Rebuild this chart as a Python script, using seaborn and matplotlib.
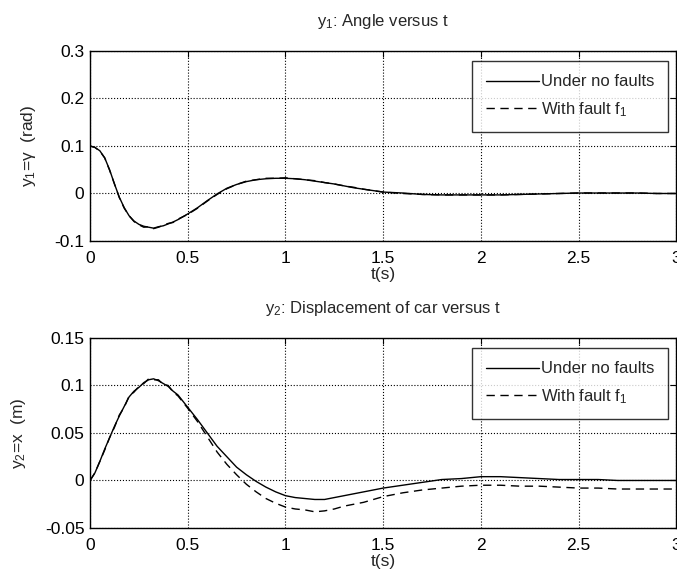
import numpy as np
import seaborn as sns
import matplotlib.pyplot as plt

# time samples (s)
t = [0, 0.025, 0.05, 0.075, 0.1, 0.125, 0.15, 0.175, 0.2, 0.225, 0.25, 0.275,
     0.3, 0.325, 0.35, 0.375, 0.4, 0.425, 0.45, 0.5, 0.55, 0.6, 0.65, 0.7, 0.75,
     0.8, 0.85, 0.9, 0.95, 1.0, 1.05, 1.1, 1.15, 1.2, 1.25, 1.3, 1.35, 1.4,
     1.45, 1.5, 1.6, 1.7, 1.8, 1.9, 2.0, 2.1, 2.2, 2.3, 2.4, 2.5, 2.6, 2.7,
     2.8, 2.9, 3.0]

# y1 : angle (rad)
y1_nofault = [0.100, 0.097, 0.090, 0.075, 0.050, 0.020, -0.008, -0.030, -0.047,
              -0.058, -0.065, -0.069, -0.071, -0.073, -0.070, -0.068, -0.064,
              -0.060, -0.055, -0.043, -0.030, -0.015, -0.001, 0.011, 0.019,
              0.025, 0.029, 0.031, 0.032, 0.032, 0.031, 0.029, 0.026, 0.023,
              0.020, 0.016, 0.012, 0.009, 0.006, 0.003, 0.001, -0.002, -0.003,
              -0.003, -0.003, -0.003, -0.002, -0.001, 0.000, 0.001, 0.001,
              0.001, 0.001, 0.000, 0.000]
y1_fault = [0.100, 0.097, 0.089, 0.075, 0.049, 0.020, -0.009, -0.031, -0.047,
            -0.059, -0.066, -0.071, -0.070, -0.074, -0.071, -0.067, -0.063,
            -0.061, -0.054, -0.044, -0.031, -0.016, -0.002, 0.010, 0.019,
            0.026, 0.029, 0.032, 0.032, 0.033, 0.031, 0.029, 0.027, 0.023,
            0.020, 0.016, 0.013, 0.009, 0.006, 0.003, 0.000, -0.002, -0.003,
            -0.003, -0.003, -0.003, -0.002, -0.001, 0.000, 0.001, 0.001,
            0.001, 0.001, 0.000, 0.000]

# y2 : displacement of car (m)
y2_nofault = [0.000, 0.008, 0.020, 0.033, 0.045, 0.057, 0.068, 0.078, 0.088,
              0.094, 0.098, 0.103, 0.106, 0.107, 0.105, 0.102, 0.099, 0.094,
              0.090, 0.077, 0.064, 0.050, 0.036, 0.025, 0.014, 0.006, -0.001,
              -0.007, -0.012, -0.016, -0.018, -0.019, -0.020, -0.020, -0.018,
              -0.016, -0.014, -0.012, -0.010, -0.008, -0.005, -0.002, 0.001,
              0.002, 0.004, 0.004, 0.003, 0.002, 0.001, 0.001, 0.001, 0.000,
              0.000, 0.000, 0.000]
y2_fault = [0.000, 0.008, 0.020, 0.032, 0.045, 0.056, 0.069, 0.077, 0.089,
            0.093, 0.099, 0.102, 0.107, 0.106, 0.106, 0.101, 0.100, 0.093,
            0.089, 0.076, 0.062, 0.046, 0.030, 0.017, 0.006, -0.004, -0.012,
            -0.019, -0.024, -0.028, -0.030, -0.031, -0.033, -0.032, -0.030,
            -0.027, -0.025, -0.023, -0.020, -0.017, -0.013, -0.010, -0.008,
            -0.006, -0.005, -0.005, -0.006, -0.006, -0.007, -0.008, -0.008,
            -0.009, -0.009, -0.009, -0.009]

xticks = [0, 0.5, 1, 1.5, 2, 2.5, 3]
xticklabels = ["0", "0.5", "1", "1.5", "2", "2.5", "3"]
y1ticks = [-0.1, 0, 0.1, 0.2, 0.3]
y1ticklabels = ["-0.1", "0", "0.1", "0.2", "0.3"]
y2ticks = [-0.05, 0, 0.05, 0.1, 0.15]
y2ticklabels = ["-0.05", "0", "0.05", "0.1", "0.15"]

sns.set_style("white")
plt.rcParams['font.family'] = ['Liberation Sans', 'DejaVu Sans']
plt.rcParams['mathtext.fontset'] = 'custom'
plt.rcParams['mathtext.rm'] = 'Liberation Sans'
plt.rcParams['mathtext.default'] = 'rm'

fig = plt.figure(figsize=(6.77, 5.8), dpi=100)
ax1 = fig.add_axes([0.133, 0.5845, 0.866, 0.3276])
ax2 = fig.add_axes([0.133, 0.0897, 0.866, 0.3276])


def style(ax, yticks, yticklabels, ylim, title, ylabel):
    ax.set_xlim(0, 3)
    ax.set_ylim(*ylim)
    ax.set_xticks(xticks)
    ax.set_xticklabels(xticklabels, fontsize=12.5)
    ax.set_yticks(yticks)
    ax.set_yticklabels(yticklabels, fontsize=12.5)
    ax.tick_params(direction='in', top=True, right=True, length=4, width=0.8,
                   colors='black')
    ax.tick_params(axis='x', pad=7)
    ax.tick_params(axis='y', pad=4)
    ax.grid(True, linestyle=':', color='black', linewidth=0.8)
    for s in ax.spines.values():
        s.set_visible(True)
        s.set_color('black')
        s.set_linewidth(1.0)
    ax.set_title(title, fontsize=12, pad=18)
    ax.set_xlabel("t(s)", fontsize=12.5, labelpad=1)
    ax.set_ylabel(ylabel, fontsize=12.5, labelpad=12)
    leg = ax.legend(loc='upper right', bbox_to_anchor=(0.985, 0.947),
                    fontsize=12, frameon=True, fancybox=False, handlelength=3.2,
                    handletextpad=0.1, borderpad=0.8, labelspacing=0.65,
                    borderaxespad=0)
    leg.get_frame().set_edgecolor('black')
    leg.get_frame().set_linewidth(1.0)


sns.lineplot(x=t, y=y1_nofault, ax=ax1, color='black', linewidth=1.0,
             label="Under no faults")
sns.lineplot(x=t, y=y1_fault, ax=ax1, color='black', linewidth=1.0,
             linestyle=(0, (6, 4)), label="With fault f$_1$")
style(ax1, y1ticks, y1ticklabels, (-0.1, 0.3), "y$_1$: Angle versus t",
      "y$_1$=γ  (rad)")

sns.lineplot(x=t, y=y2_nofault, ax=ax2, color='black', linewidth=1.0,
             label="Under no faults")
sns.lineplot(x=t, y=y2_fault, ax=ax2, color='black', linewidth=1.0,
             linestyle=(0, (6, 4)), label="With fault f$_1$")
style(ax2, y2ticks, y2ticklabels, (-0.05, 0.15),
      "y$_2$: Displacement of car versus t", "y$_2$=x  (m)")

fig.savefig("out.png", dpi=100)
